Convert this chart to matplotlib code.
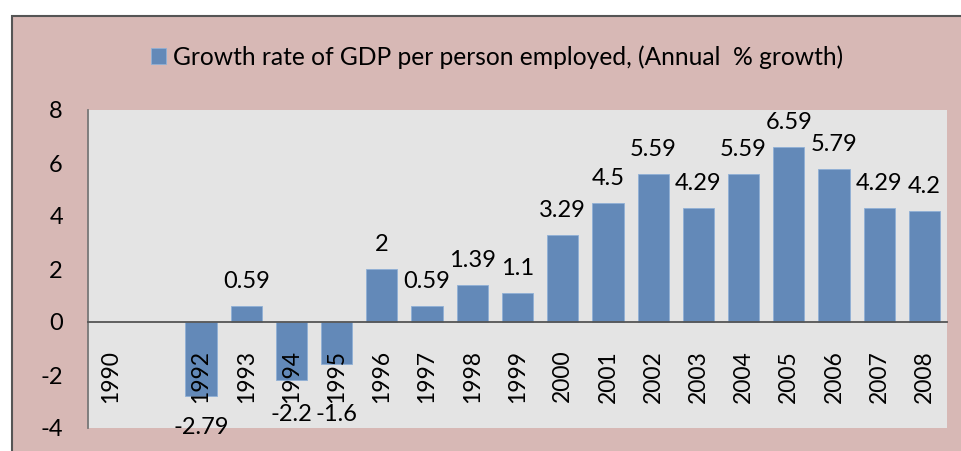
import numpy as np
import matplotlib.pyplot as plt
from matplotlib.patches import Rectangle

years = ["1990", "", "1992", "1993", "1994", "1995", "1996", "1997", "1998", "1999",
         "2000", "2001", "2002", "2003", "2004", "2005", "2006", "2007", "2008"]
growth = [np.nan, np.nan, -2.79, 0.59, -2.2, -1.6, 2, 0.59, 1.39, 1.1,
          3.29, 4.5, 5.59, 4.29, 5.59, 6.59, 5.79, 4.29, 4.2]
value_labels = ["", "", "-2.79", "0.59", "-2.2", "-1.6", "2", "0.59", "1.39", "1.1",
                "3.29", "4.5", "5.59", "4.29", "5.59", "6.59", "5.79", "4.29", "4.2"]
y_ticks = [-4, -2, 0, 2, 4, 6, 8]

PINK = "#d7b8b5"
PLOT_BG = "#e4e4e4"
BAR = "#6389b8"
FS = 17

plt.rcParams["font.family"] = ["Lato", "DejaVu Sans"]

W, H = 961, 451
fig = plt.figure(figsize=(W / 100, H / 100), dpi=100)
fig.patch.set_facecolor("white")

# chart frame (cropped screenshot: runs off right and bottom)
fig.patches.append(Rectangle((12 / W, -0.2), 1.0, (H - 16) / H + 0.2, transform=fig.transFigure,
                             facecolor=PINK, edgecolor="#555555", lw=1.5, zorder=-5))

ax = fig.add_axes([88 / W, (H - 428) / H, (947 - 88) / W, (428 - 110) / H])
ax.set_facecolor(PLOT_BG)

x = np.arange(len(years))
bars = ax.bar(x, growth, width=0.69, color=BAR, edgecolor="#8fb0d6", lw=0.6, zorder=1,
              label="Growth rate of GDP per person employed, (Annual  % growth)")

# negative labels sit below the bar end, but never up inside the year labels
NEG_GAP = 0.8
NEG_FLOOR = -3.1
for xi, v, lab in zip(x, growth, value_labels):
    if not lab:
        continue
    if v >= 0:
        ax.annotate(lab, (xi, v), xytext=(0, 13), textcoords="offset points",
                    ha="center", va="baseline", fontsize=FS, annotation_clip=False)
    else:
        ax.text(xi, min(v - NEG_GAP, NEG_FLOOR), lab, ha="center", va="top",
                fontsize=FS, clip_on=False, zorder=5)

ax.set_xlim(-0.5, len(years) - 0.5)
ax.set_ylim(-4, 8)
ax.set_yticks(y_ticks)
ax.set_yticklabels([str(t) for t in y_ticks], fontsize=FS)
ax.tick_params(axis="y", length=0, pad=18)

ax.spines["bottom"].set_position(("data", 0))
ax.spines["bottom"].set_color("#555555")
ax.spines["bottom"].set_linewidth(1.3)
ax.spines["left"].set_color("#777777")
ax.spines["left"].set_linewidth(1.3)
ax.spines[["top", "right"]].set_visible(False)

ax.set_xticks(x)
ax.set_xticklabels(years, rotation=90, fontsize=16.5, va="top")
ax.tick_params(axis="x", length=0, pad=20)

leg = fig.legend(handles=[bars], labels=[bars.get_label()], loc="center",
                 bbox_to_anchor=(497 / W, 1 - 57 / H), frameon=False, fontsize=17.7,
                 handlelength=0.6, handleheight=0.6, handletextpad=0.3)

fig.savefig("out.png", dpi=100, facecolor=fig.get_facecolor())
